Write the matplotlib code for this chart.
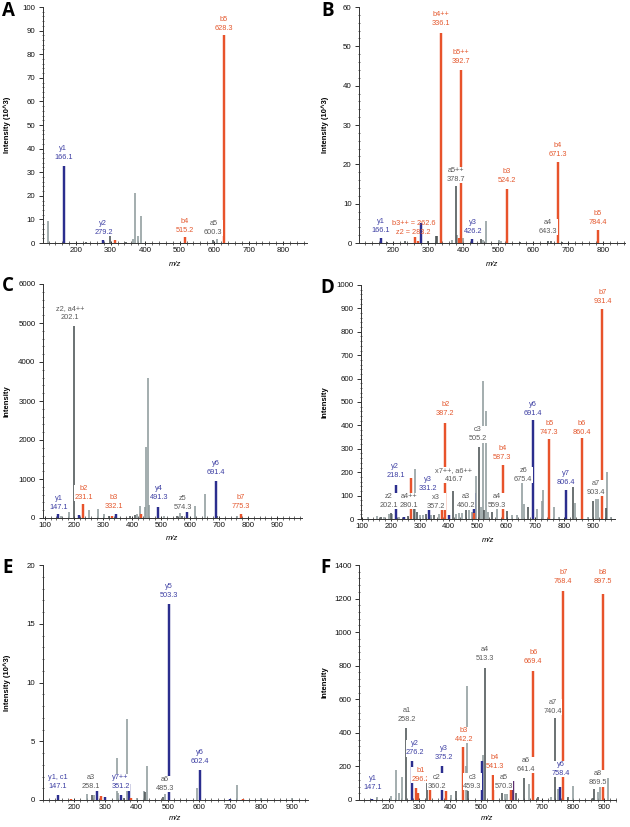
import matplotlib
matplotlib.use("Agg")
import matplotlib.pyplot as plt
from matplotlib.ticker import MultipleLocator

plt.rcParams['font.family'] = ['Liberation Sans', 'DejaVu Sans']

# ion type: b = b-ion (orange), y = y-ion (blue), d = other assigned (dark grey),
# l = unassigned (light grey), p = overlapping (purple)
bar_color = {'b': '#E8532B', 'y': '#2B2E8E', 'd': '#4A5152', 'l': '#8F9B9C', 'p': '#5B2D6E'}
text_color = {'b': '#E4582E', 'y': '#3D3FA3', 'd': '#5A5A5A'}

# ---- A  (intensity x10^3)
a_mz = [119, 166.1, 230, 260, 279.2, 299, 313, 345, 364, 371,
        378, 387.5, 440, 515.2, 560, 598, 609.6, 628.3, 700]
a_int = [9.2, 32.7, 0.3, 0.2, 1.1, 2.8, 1.4, 0.4, 1.9, 21.2,
         2.8, 11.3, 0.2, 2.5, 0.2, 1.4, 1.7, 88.0, 0.2]
a_kind = list("lyddydbdll") + list("lllbddlbd")
a_labels = [("y1\n166.1", 163, 34.6, 'y'), ("y2\n279.2", 279, 3.1, 'y'),
            ("b4\n515.2", 515.5, 4.0, 'b'), ("a5\n600.3", 597.6, 3.1, 'd'),
            ("b5\n628.3", 628.3, 89.5, 'b')]

# ---- B  (intensity x10^3)
b_mz = [166.1, 182, 234, 262.6, 270, 280, 301, 323, 326, 336.1,
        367, 378.7, 384, 388, 392.7, 400, 426.2, 451, 456, 466,
        503, 507, 524.2, 562, 643.3, 650, 671.3, 681, 784.4]
b_int = [1.2, 0.3, 0.5, 1.5, 0.6, 5.1, 0.6, 1.7, 1.7, 53.5,
         0.8, 14.4, 2.0, 1.3, 44.0, 1.2, 0.9, 1.0, 0.8, 5.5,
         0.7, 0.6, 13.8, 0.3, 0.5, 0.4, 20.5, 0.3, 3.2]
b_kind = list("yddbbydddb") + list("ldlbblydll") + list("llbdddbdb")
b_labels = [("y1\n166.1", 166, 2.4, 'y'), ("b3++ = 262.6\nz2 = 283.2", 258, 1.9, 'b'),
            ("b4++\n336.1", 336, 54.9, 'b'), ("a5++\n378.7", 378.8, 15.3, 'd'),
            ("b5++\n392.7", 393, 45.3, 'b'), ("y3\n426.2", 429, 2.0, 'y'),
            ("b3\n524.2", 524, 14.9, 'b'), ("a4\n643.3", 643, 2.0, 'd'),
            ("b4\n671.3", 671, 21.5, 'b'), ("b5\n784.4", 784.4, 4.3, 'b')]

# ---- C  (intensity)
c_mz = [147.1, 157, 182, 202.1, 217, 231.1, 251.5, 283.6, 303, 320,
        332.1, 346.8, 395, 410, 418, 429, 431.7, 444, 450, 454.6,
        458, 491.3, 510, 556, 567, 574.3, 590, 619, 653, 691.4,
        694, 762, 775.3]
c_int = [100, 50, 145, 4920, 77, 367, 213, 239, 111, 40,
         55, 102, 50, 85, 110, 316, 110, 273, 1810, 3580,
         340, 282, 50, 50, 128, 60, 316, 307, 623, 960,
         60, 50, 111]
c_kind = list("ylldybllld") + list("byddllblll") + list("lyldldylly") + list("dlb")
c_labels = [("y1\n147.1", 148, 170, 'y'), ("z2, a4++\n202.1", 188, 5060, 'd'),
            ("b2\n231.1", 234, 427, 'b'), ("b3\n332.1", 337.6, 196, 'b'),
            ("y4\n491.3", 492.6, 427, 'y'), ("z5\n574.3", 576, 170, 'd'),
            ("y6\n691.4", 691, 1066, 'y'), ("b7\n775.3", 774, 213, 'b')]

# ---- D  (intensity)
d_mz = [120, 152.6, 165, 178, 192.8, 200, 204, 218.1, 230, 244,
        260, 271, 280, 282.4, 290, 300, 310, 320, 331.2, 340,
        350, 365, 376, 387.2, 400, 416.7, 425, 437, 445.5, 460.2,
        470, 481, 486.5, 489, 493, 505.2, 512, 518, 522, 528.6,
        535, 549, 566, 587.3, 600.5, 620, 635, 655, 660, 675.4,
        691.4, 707, 721, 727, 747.3, 765, 780, 806.4, 830, 837,
        860.4, 880, 899, 910, 917, 931.4, 945, 947, 962]
d_int = [8, 11, 8, 10, 23, 25, 20, 146, 10, 10,
         12, 177, 97, 214, 30, 15, 18, 20, 90, 15,
         18, 20, 57, 409, 15, 121, 20, 25, 25, 40,
         40, 30, 25, 111, 185, 307, 51, 590, 40, 462,
         30, 30, 43, 232, 33, 15, 15, 213, 64, 51,
         423, 42, 75, 122, 341, 51, 10, 125, 136, 68,
         345, 10, 75, 85, 85, 896, 45, 202, 10]
d_kind = (list("lldlldlyly") + list("dbdldlldyl") + list("dlbbydllld") +
          list("llbyldlldl") + list("ldlbdlllld") + list("ylllbllydl") +
          list("bldllbdll"))
d_labels = [("z2\n202.1", 192.8, 43, 'd'), ("y2\n218.1", 215.8, 170, 'y'),
            ("a4++\n280.1", 261.7, 43, 'd'), ("y3\n331.2", 329.5, 114, 'y'),
            ("x3\n357.2", 357, 40, 'd'), ("b2\n387.2", 388, 437, 'b'),
            ("x7++, a6++\n416.7", 418, 153, 'd'), ("a3\n460.2", 459, 43, 'd'),
            ("c3\n505.2", 499.5, 327, 'd'), ("a4\n559.3", 566, 43, 'd'),
            ("b4\n587.3", 585.7, 246, 'b'), ("z6\n675.4", 658, 153, 'd'),
            ("y6\n691.4", 690, 437, 'y'), ("b5\n747.3", 747.6, 355, 'b'),
            ("y7\n806.4", 805, 139, 'y'), ("b6\n860.4", 859, 355, 'b'),
            ("a7\n903.4", 908, 97, 'd'), ("b7\n931.4", 931.4, 913, 'b')]

# ---- E  (intensity x10^3)
e_mz = [147.1, 189, 240, 258.1, 265, 274, 287, 300, 338, 340,
        351.2, 359, 368, 375.5, 383, 402, 423, 428, 434, 485.3,
        492, 503.3, 594, 602.4, 700, 723.5, 740, 800, 900]
e_int = [0.45, 0.05, 0.54, 0.45, 0.45, 0.82, 0.3, 0.25, 3.57, 0.6,
         0.45, 0.2, 6.9, 1.33, 0.2, 0.2, 0.74, 0.65, 2.86, 0.25,
         0.5, 16.66, 1.0, 2.58, 0.1, 1.25, 0.08, 0.2, 0.2]
e_kind = list("ybldlybyll") + list("ydlyblldld") + list("lylyylbll")
e_labels = [("y1, c1\n147.1", 148, 0.82, 'y'), ("a3\n258.1", 252.8, 0.82, 'd'),
            ("y7++\n351.2", 348.7, 0.82, 'y'), ("a6\n485.3", 490, 0.68, 'd'),
            ("y5\n503.3", 503.3, 17.1, 'y'), ("y6\n602.4", 602.4, 3.0, 'y')]

# ---- F  (intensity)
f_mz = [147.1, 162.5, 206.8, 225, 233.8, 242.6, 258.2, 276.2, 288, 296.2,
        323.8, 335.9, 375.2, 387.5, 404, 418, 442.2, 451, 456, 459.3,
        503.8, 506, 513.3, 541.3, 568.6, 579.6, 585, 599, 606, 614.7,
        641.4, 656.4, 669.4, 687, 727.8, 740.4, 752, 758.4, 768.4, 782.7,
        801, 865, 869.5, 880, 887, 897.5, 914]
f_int = [8, 20, 26, 180, 40, 137, 429, 230, 71, 42,
         105, 62, 200, 52, 30, 55, 315, 200, 680, 55,
         230, 270, 788, 151, 42, 35, 35, 131, 111, 40,
         131, 95, 766, 15, 20, 486, 65, 77, 1246, 20,
         81, 10, 67, 47, 83, 1228, 131]
f_kind = (list("yllllldybb") + list("dbybldblld") + list("yldbdllbpd") +
          list("dlbdldlybd") + list("lddllbl"))
f_labels = [("y1\n147.1", 148, 52, 'y'), ("a1\n258.2", 261, 458, 'd'),
            ("y2\n276.2", 286.5, 260, 'y'), ("b1\n296.2", 304, 101, 'b'),
            ("c2\n360.2", 356, 62, 'd'), ("y3\n375.2", 378.7, 230, 'y'),
            ("b3\n442.2", 444.6, 339, 'b'), ("c3\n459.3", 473, 62, 'd'),
            ("a4\n513.3", 514.8, 821, 'd'), ("b4\n541.3", 546.7, 180, 'b'),
            ("a5\n570.3", 574, 62, 'd'), ("a6\n641.4", 645.5, 161, 'd'),
            ("b6\n669.4", 670.7, 802, 'b'), ("a7\n740.4", 735, 508, 'd'),
            ("y6\n758.4", 760.7, 137, 'y'), ("b7\n768.4", 768.4, 1278, 'b'),
            ("a8\n869.5", 881.5, 81, 'd'), ("b8\n897.5", 897.5, 1278, 'b')]

W, H = 630, 827
fig = plt.figure(figsize=(W / 100, H / 100), dpi=100)


def panel(letter, box, mz, inten, kind, labels, xlim, ymax, ymajor, yminor, xfirst, xlast,
          ylabel, letter_px, ylab_px, xlab_py):
    l, t, r, b = box
    ax = fig.add_axes([l / W, 1 - b / H, (r - l) / W, (b - t) / H])
    for k in "ldpyb":
        xs = [m for m, c in zip(mz, kind) if c == k]
        hs = [v for v, c in zip(inten, kind) if c == k]
        lw = 1.15 if k in "ld" else 1.75
        ax.vlines(xs, 0, hs, colors=bar_color[k], linewidth=lw, zorder=2)
    for txt, x, y, k in labels:
        box_kw = None if '=' in txt else dict(fc='white', ec='none', pad=0.1)
        ax.text(x, y, txt, ha='center', va='bottom', fontsize=5.3, color=text_color[k],
                linespacing=1.4, zorder=3, bbox=box_kw)
    ax.set_xlim(*xlim)
    ax.set_ylim(0, ymax)
    ax.set_xticks(range(xfirst, xlast + 1, 100))
    ax.xaxis.set_minor_locator(MultipleLocator(20))
    ax.yaxis.set_major_locator(MultipleLocator(ymajor))
    ax.yaxis.set_minor_locator(MultipleLocator(yminor))
    for s in ('top', 'right'):
        ax.spines[s].set_visible(False)
    for s in ('left', 'bottom'):
        ax.spines[s].set_linewidth(0.7)
        ax.spines[s].set_color('#333333')
    ax.tick_params(axis='x', which='major', direction='inout', length=3.2, width=0.6,
                   labelsize=5.7, pad=1.0, colors='#111111')
    ax.tick_params(axis='x', which='minor', direction='inout', length=2.2, width=0.5,
                   colors='#333333')
    ax.tick_params(axis='y', which='major', direction='out', length=2.6, width=0.6,
                   labelsize=5.7, pad=2.8, colors='#111111')
    ax.tick_params(axis='y', which='minor', direction='inout', length=2.0, width=0.5,
                   colors='#333333')
    ax.set_ylabel(ylabel, fontsize=5.5, fontweight='bold')
    ax.yaxis.set_label_coords(ylab_px / W, 1 - (t + b) / 2 / H, transform=fig.transFigure)
    ax.set_xlabel('m/z', fontsize=5.5, style='italic')
    ax.xaxis.set_label_coords((l + r) / 2 / W, 1 - xlab_py / H, transform=fig.transFigure)
    ax.xaxis.label.set_va('center')
    ax.yaxis.label.set_va('center')
    fig.text(letter_px[0] / W, 1 - letter_px[1] / H, letter, fontsize=13.5, fontweight='bold',
             family=['Open Sans', 'DejaVu Sans'], ha='left', va='top')
    return ax


panel('A', (43, 7, 307, 243), a_mz, a_int, a_kind, a_labels, (104, 869), 100, 10, 2,
      200, 800, 'Intensity (10^3)', (2, 1), 7, 265)
panel('B', (359, 7, 625, 243), b_mz, b_int, b_kind, b_labels, (103, 862), 60, 10, 2,
      200, 800, 'Intensity (10^3)', (321, 1), 325, 265)
panel('C', (43, 284, 302, 518), c_mz, c_int, c_kind, c_labels, (94, 986), 6000, 1000, 200,
      100, 900, 'Intensity', (2, 276), 7, 539)
panel('D', (361, 285, 615, 519), d_mz, d_int, d_kind, d_labels, (97, 975), 1000, 100, 20,
      100, 900, 'Intensity', (320, 278), 325, 540)
panel('E', (43, 565, 308, 800), e_mz, e_int, e_kind, e_labels, (100, 950), 20, 5, 1,
      200, 900, 'Intensity (10^3)', (2, 558), 7, 818)
panel('F', (359, 565, 616, 800), f_mz, f_int, f_kind, f_labels, (104, 940), 1400, 200, 40,
      200, 900, 'Intensity', (320, 558), 325, 819)

fig.savefig('out.png', dpi=100)
